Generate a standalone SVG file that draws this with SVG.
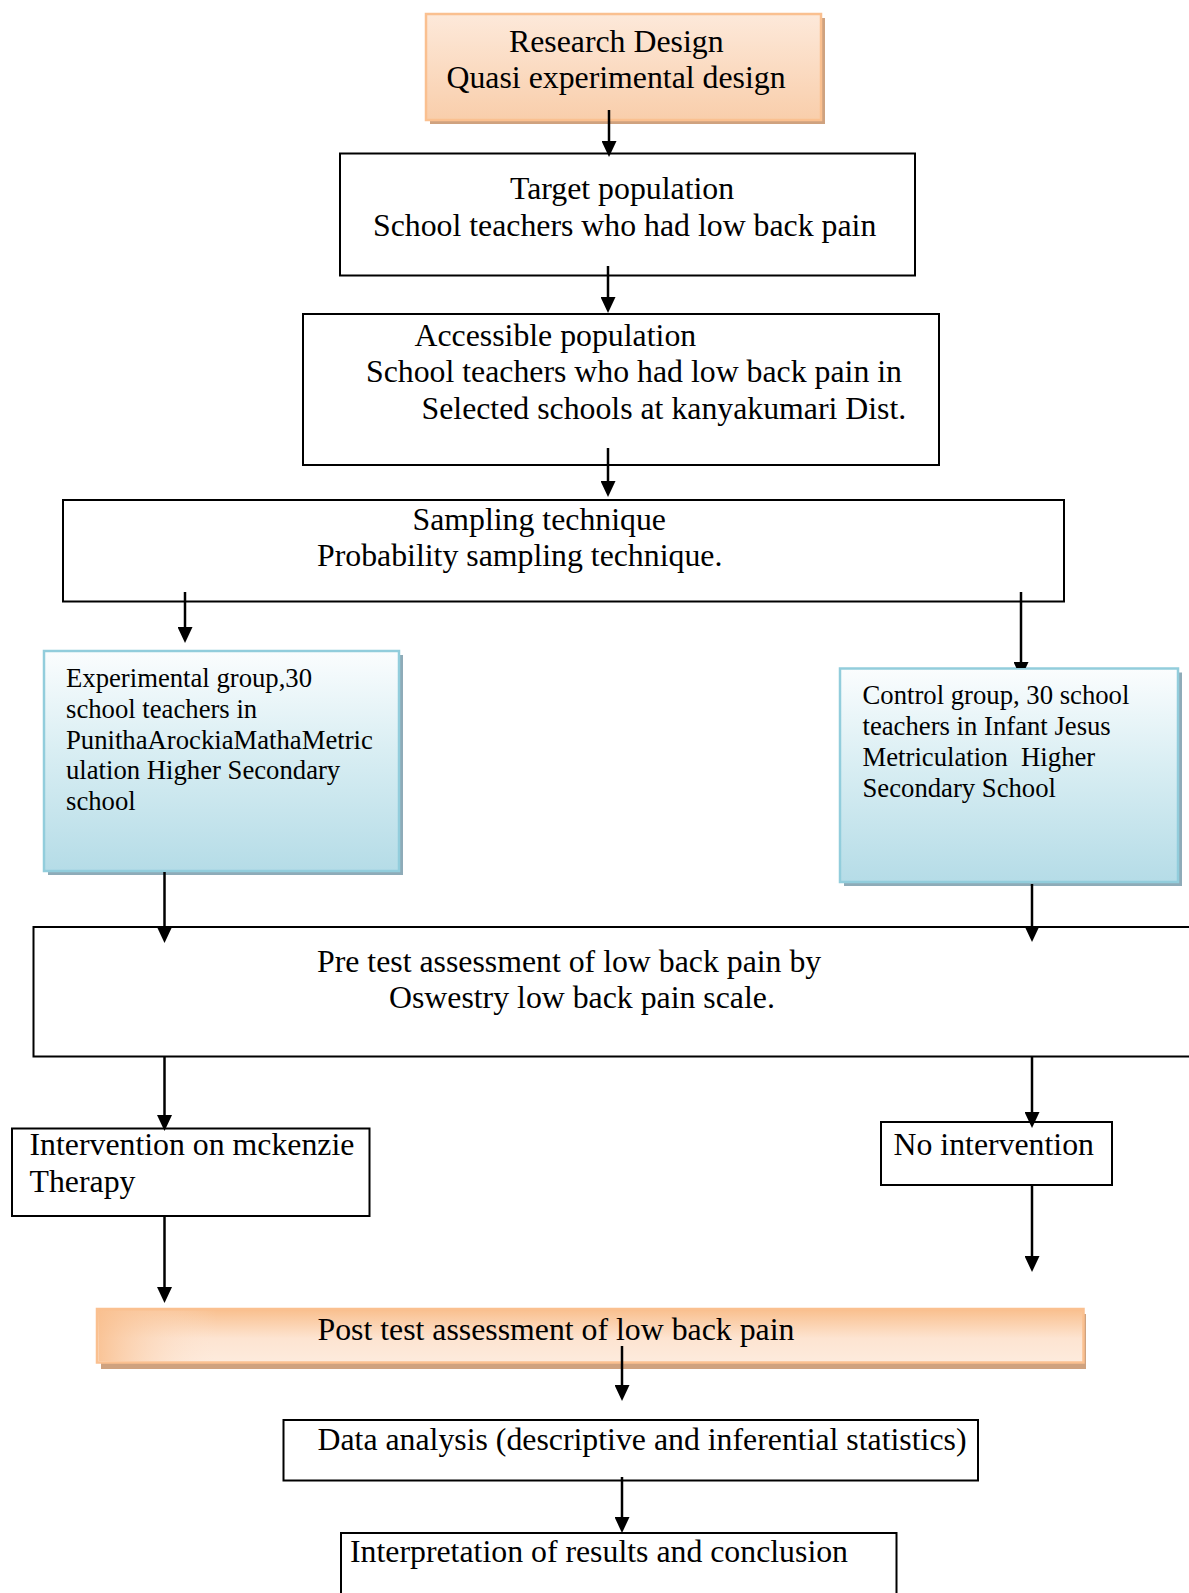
<svg xmlns="http://www.w3.org/2000/svg" width="1189" height="1593" viewBox="0 0 1189 1593">
<style>
  text { font-family: "Liberation Serif", "Times New Roman", serif; fill: #000; }
  .big { font-size: 31.8px; }
  .small { font-size: 26.7px; }
  .box { fill: #fff; stroke: #000; stroke-width: 2; }
  .orange { stroke: #fac090; stroke-width: 2.5; }
  .blue { stroke: #92cddc; stroke-width: 2.5; fill: url(#gBlue); }
  .shO { fill: #cfa27f; }
  .shB { fill: #8eabb8; }
  .conn { stroke: #000; stroke-width: 2.5; fill: none; marker-end: url(#arrow); }
</style>
<defs>
  <marker id="arrow" viewBox="0 0 16 15" refX="8" refY="7.5" markerWidth="16" markerHeight="15" markerUnits="userSpaceOnUse" orient="auto">
    <path d="M0,0 L16,7.5 L0,15 z" fill="#000"/>
  </marker>
  <linearGradient id="gOrange1" x1="0" y1="0" x2="0" y2="1">
    <stop offset="0" stop-color="#fde9da"/>
    <stop offset="1" stop-color="#f9ceab"/>
  </linearGradient>
  <linearGradient id="gOrange2" x1="0" y1="0" x2="0" y2="1">
    <stop offset="0" stop-color="#f9bf8d"/>
    <stop offset="0.55" stop-color="#fde4d1"/>
    <stop offset="1" stop-color="#fdebdd"/>
  </linearGradient>
  <linearGradient id="gOrangeL" x1="0" y1="0" x2="1" y2="0">
    <stop offset="0" stop-color="#f9c090" stop-opacity="0.9"/>
    <stop offset="0.12" stop-color="#fde6d5" stop-opacity="0"/>
    <stop offset="1" stop-color="#fde6d5" stop-opacity="0"/>
  </linearGradient>
  <linearGradient id="gBlue" x1="0" y1="0" x2="0" y2="1">
    <stop offset="0" stop-color="#fbfdfe"/>
    <stop offset="0.45" stop-color="#d9eef3"/>
    <stop offset="1" stop-color="#b5dce7"/>
  </linearGradient>
  <clipPath id="clipA5">
    <rect x="0" y="0" width="1189" height="668"/>
  </clipPath>
</defs>

<g id="node-research-design">
  <rect class="shO" x="430" y="18" width="395" height="106"/>
  <rect class="orange" x="426" y="14" width="395" height="106" fill="url(#gOrange1)"/>
  <text class="big" x="509" y="52">Research Design</text>
  <text class="big" x="446.5" y="88">Quasi experimental design</text>
</g>

<g id="node-target-population">
  <rect class="box" x="340" y="153.5" width="575" height="122"/>
  <text class="big" x="510" y="198.5">Target population</text>
  <text class="big" x="373" y="235.5">School teachers who had low back pain</text>
</g>

<g id="node-accessible-population">
  <rect class="box" x="303" y="314" width="636" height="151"/>
  <text class="big" x="414.5" y="345.5">Accessible population</text>
  <text class="big" x="366" y="382">School teachers who had low back pain in</text>
  <text class="big" x="421.5" y="418.5">Selected schools at kanyakumari Dist.</text>
</g>

<g id="node-sampling">
  <rect class="box" x="63" y="500" width="1001" height="101.5"/>
  <text class="big" x="412.5" y="529.5">Sampling technique</text>
  <text class="big" x="317" y="566">Probability sampling technique.</text>
</g>

<g id="node-experimental">
  <rect class="shB" x="48" y="655" width="355" height="220"/>
  <rect class="blue" x="44" y="651" width="355" height="220"/>
  <text class="small" x="66" y="686.5">Experimental group,30</text>
  <text class="small" x="66" y="717.5">school teachers in</text>
  <text class="small" x="66" y="748.5">PunithaArockiaMathaMetric</text>
  <text class="small" x="66" y="779">ulation Higher Secondary</text>
  <text class="small" x="66" y="810">school</text>
</g>

<g id="node-control">
  <rect class="shB" x="844" y="672.5" width="338" height="213.5"/>
  <rect class="blue" x="840" y="668.5" width="338" height="213.5"/>
  <text class="small" x="862.5" y="704">Control group, 30 school</text>
  <text class="small" x="862.5" y="735">teachers in Infant Jesus</text>
  <text class="small" x="862.5" y="766" style="white-space:pre" xml:space="preserve">Metriculation  Higher</text>
  <text class="small" x="862.5" y="796.5">Secondary School</text>
</g>

<g id="node-pretest">
  <rect class="box" x="33.5" y="927" width="1170" height="129.5"/>
  <text class="big" x="317" y="971.5">Pre test assessment of low back pain by</text>
  <text class="big" x="389" y="1007.5">Oswestry low back pain scale.</text>
</g>

<g id="node-intervention">
  <rect class="box" x="12" y="1128.5" width="357.5" height="87.5"/>
  <text class="big" x="29.5" y="1155">Intervention on mckenzie</text>
  <text class="big" x="29.5" y="1191.5">Therapy</text>
</g>

<g id="node-no-intervention">
  <rect class="box" x="881" y="1122" width="231" height="63"/>
  <text class="big" x="893.5" y="1155">No intervention</text>
</g>

<g id="node-posttest">
  <rect class="shO" x="101" y="1314" width="985" height="55"/>
  <rect class="orange" x="97" y="1309" width="986.5" height="53.5" fill="url(#gOrange2)"/>
  <rect x="98.5" y="1310.5" width="983.5" height="50.5" fill="url(#gOrangeL)"/>
  <text class="big" x="317.5" y="1339.5">Post test assessment of low back pain</text>
</g>

<g id="node-data-analysis">
  <rect class="box" x="283.5" y="1420" width="694.5" height="60.5"/>
  <text class="big" x="317.5" y="1450">Data analysis (descriptive and inferential statistics)</text>
</g>

<g id="node-interpretation">
  <rect class="box" x="341" y="1533" width="555.5" height="80"/>
  <text class="big" x="350" y="1561.5">Interpretation of results and conclusion</text>
</g>

<g id="connectors">
  <path class="conn" d="M609,110 V149"/>
  <path class="conn" d="M608,266 V305"/>
  <path class="conn" d="M608,448 V489"/>
  <path class="conn" d="M185,592 V635"/>
  <path class="conn" d="M1021,592 V670" clip-path="url(#clipA5)"/>
  <path class="conn" d="M164.5,872 V935"/>
  <path class="conn" d="M1032,884 V934"/>
  <path class="conn" d="M164.5,1057 V1123"/>
  <path class="conn" d="M1032,1057 V1120"/>
  <path class="conn" d="M164.5,1216 V1295"/>
  <path class="conn" d="M1032,1185 V1264"/>
  <path class="conn" d="M622,1346 V1393"/>
  <path class="conn" d="M622,1477 V1525"/>
</g>
</svg>
